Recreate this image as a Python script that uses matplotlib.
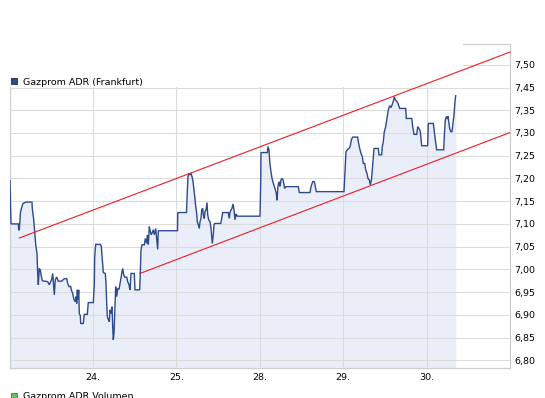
import matplotlib
matplotlib.use("Agg")
import matplotlib.pyplot as plt
from matplotlib.patches import Rectangle

plt.rcParams['font.family'] = ['DejaVu Sans']

# ---- data (trading-day index: 0 = 23., 1 = 24., ...) ----
day_positions = [1, 2, 3, 4, 5]
day_labels = ["24.", "25.", "28.", "29.", "30."]

price_ticks = [6.80, 6.85, 6.90, 6.95, 7.00, 7.05, 7.10, 7.15, 7.20, 7.25,
               7.30, 7.35, 7.40, 7.45]
price_tick_labels = ["6,80", "6,85", "6,90", "6,95", "7,00", "7,05", "7,10",
                     "7,15", "7,20", "7,25", "7,30", "7,35", "7,45", "7,50"]

times = [0.006, 0.012, 0.018, 0.1055, 0.1103, 0.1175, 0.1319, 0.1415, 0.1618, 0.1978,
         0.2697, 0.2733, 0.2901, 0.3021, 0.3141, 0.3297, 0.3381, 0.3453, 0.3572, 0.3692,
         0.3812, 0.3932, 0.4579, 0.4771, 0.5059, 0.5179, 0.5251, 0.5371, 0.5490, 0.5658,
         0.5850, 0.6258, 0.6533, 0.6857, 0.6977, 0.7133, 0.7336, 0.7408, 0.7576, 0.7732,
         0.7888, 0.7972, 0.8056, 0.8128, 0.8212, 0.8296, 0.8368, 0.8488, 0.8536, 0.8847,
         0.8967, 0.9327, 0.9447, 1.0046, 1.0166, 1.0214, 1.0334, 1.0885, 1.1005, 1.1125,
         1.1245, 1.1485, 1.1568, 1.1652, 1.1724, 1.1844, 1.1964, 1.2048, 1.2168, 1.2288,
         1.2372, 1.2443, 1.2527, 1.2611, 1.2731, 1.2851, 1.2971, 1.3127, 1.3330, 1.3450,
         1.3570, 1.3690, 1.3810, 1.4050, 1.4170, 1.4326, 1.4446, 1.4566, 1.4961, 1.5045,
         1.5608, 1.5680, 1.5764, 1.5884, 1.6160, 1.6280, 1.6448, 1.6520, 1.6639, 1.6759,
         1.6879, 1.6999, 1.7239, 1.7359, 1.7527, 1.7647, 1.7766, 1.7838, 2.0140, 2.0176,
         2.1218, 2.1314, 2.1398, 2.1518, 2.1638, 2.1758, 2.1878, 2.1997, 2.2117, 2.2201,
         2.2321, 2.2441, 2.2513, 2.2633, 2.2753, 2.2837, 2.2957, 2.3041, 2.3161, 2.3233,
         2.3352, 2.3436, 2.3556, 2.3676, 2.3760, 2.3880, 2.4036, 2.4156, 2.4240, 2.4312,
         2.4432, 2.4516, 2.4600, 2.5319, 2.5439, 2.5559, 2.6230, 2.6350, 2.6434, 2.6554,
         2.6673, 2.6793, 2.6913, 2.7033, 2.7153, 2.7309, 3.0030, 3.0114, 3.0150, 3.0905,
         3.0989, 3.1109, 3.1193, 3.1313, 3.1469, 3.1625, 3.1828, 3.1984, 3.2068, 3.2188,
         3.2308, 3.2427, 3.2547, 3.2667, 3.2787, 3.2871, 3.2991, 3.3147, 3.4621, 3.4741,
         3.6024, 3.6144, 3.6348, 3.6540, 3.6660, 3.6780, 4.0099, 4.0219, 4.0339, 4.0543,
         4.0699, 4.0854, 4.0974, 4.1142, 4.1742, 4.1814, 4.1982, 4.2138, 4.2294, 4.2414,
         4.2582, 4.2701, 4.2857, 4.2977, 4.3133, 4.3253, 4.3397, 4.3541, 4.3697, 4.4212,
         4.4296, 4.4620, 4.4692, 4.4812, 4.4932, 4.5100, 4.5255, 4.5411, 4.5579, 4.5735,
         4.5890, 4.6058, 4.6130, 4.6250, 4.6418, 4.6574, 4.6778, 4.7497, 4.7569, 4.8216,
         4.8336, 4.8492, 4.8816, 4.8936, 4.9092, 4.9248, 4.9414, 5.0133, 5.0205, 5.0805,
         5.0924, 5.1044, 5.1212, 5.2051, 5.2123, 5.2243, 5.2363, 5.2483, 5.2567, 5.2651,
         5.2771, 5.2891, 5.3047, 5.3167, 5.3287, 5.3406, 5.3490]

prices = [7.195, 7.147, 7.100, 7.100, 7.087, 7.087, 7.126, 7.133, 7.145, 7.148,
          7.148, 7.134, 7.109, 7.083, 7.055, 7.035, 6.991, 6.966, 7.002, 6.999,
          6.985, 6.975, 6.973, 6.966, 6.978, 6.991, 6.973, 6.944, 6.977, 6.983,
          6.974, 6.974, 6.979, 6.980, 6.969, 6.962, 6.963, 6.955, 6.947, 6.933,
          6.929, 6.940, 6.925, 6.955, 6.933, 6.955, 6.903, 6.898, 6.881, 6.881,
          6.901, 6.901, 6.927, 6.927, 6.966, 7.028, 7.055, 7.055, 7.051, 7.021,
          6.993, 6.991, 6.969, 6.925, 6.896, 6.890, 6.885, 6.911, 6.903, 6.918,
          6.874, 6.845, 6.859, 6.903, 6.962, 6.940, 6.958, 6.956, 6.977, 6.991,
          7.002, 6.988, 6.983, 6.983, 6.973, 6.966, 6.955, 6.991, 6.991, 6.955,
          6.955, 6.991, 7.043, 7.054, 7.054, 7.068, 7.057, 7.076, 7.054, 7.094,
          7.083, 7.076, 7.087, 7.076, 7.090, 7.068, 7.044, 7.085, 7.085, 7.125,
          7.125, 7.171, 7.204, 7.211, 7.208, 7.211, 7.204, 7.193, 7.175, 7.160,
          7.139, 7.123, 7.105, 7.098, 7.090, 7.105, 7.112, 7.131, 7.134, 7.120,
          7.112, 7.127, 7.131, 7.147, 7.120, 7.109, 7.105, 7.090, 7.072, 7.057,
          7.076, 7.098, 7.101, 7.101, 7.112, 7.125, 7.125, 7.112, 7.125, 7.131,
          7.134, 7.144, 7.131, 7.109, 7.122, 7.117, 7.117, 7.189, 7.257, 7.257,
          7.270, 7.263, 7.237, 7.219, 7.200, 7.189, 7.178, 7.167, 7.152, 7.183,
          7.193, 7.182, 7.197, 7.200, 7.197, 7.189, 7.178, 7.182, 7.182, 7.169,
          7.169, 7.182, 7.193, 7.193, 7.182, 7.171, 7.171, 7.215, 7.259, 7.264,
          7.266, 7.271, 7.285, 7.291, 7.291, 7.281, 7.266, 7.255, 7.248, 7.233,
          7.233, 7.219, 7.211, 7.200, 7.197, 7.186, 7.197, 7.230, 7.266, 7.266,
          7.252, 7.252, 7.270, 7.281, 7.303, 7.314, 7.332, 7.351, 7.360, 7.356,
          7.363, 7.373, 7.380, 7.373, 7.370, 7.365, 7.354, 7.354, 7.332, 7.332,
          7.314, 7.297, 7.297, 7.314, 7.310, 7.303, 7.272, 7.272, 7.321, 7.321,
          7.303, 7.285, 7.263, 7.263, 7.292, 7.329, 7.336, 7.331, 7.337, 7.325,
          7.310, 7.303, 7.303, 7.321, 7.340, 7.369, 7.382]

# trend channel lines
upper_x = [0.1175, 6.0]
upper_y = [7.069, 7.478]
lower_x = [1.564, 6.0]
lower_y = [6.991, 7.301]

series_name = "Gazprom ADR (Frankfurt)"
volume_name = "Gazprom ADR Volumen"

# ---- styling ----
W, H = 545, 398
line_color = "#2c4a8c"
fill_color = "#eaeef9"
grid_color = "#dcdcdc"
red = "#ee1c25"
fs = 6.8

fig = plt.figure(figsize=(W / 100, H / 100), dpi=100)
fig.patch.set_facecolor("white")

left, right, top, bottom = 9.5, 510, 44.3, 368.3
ax = fig.add_axes([left / W, 1 - bottom / H, (right - left) / W, (bottom - top) / H])
ax.set_facecolor("white")

ymin, ymax = 6.7824, 7.4951
ax.set_xlim(0, 6)
ax.set_ylim(ymin, ymax)

ax.fill_between(times, prices, ymin, color=fill_color, linewidth=0, zorder=1)
ax.plot(times, prices, color=line_color, linewidth=1.0, zorder=3,
        solid_joinstyle="miter")

ax.set_xticks(day_positions)
ax.set_xticklabels(day_labels)
ax.set_yticks(price_ticks)
ax.set_yticklabels(price_tick_labels)
ax.yaxis.tick_right()
ax.tick_params(axis="both", length=0, labelsize=fs, colors="black")
ax.tick_params(axis="x", pad=3.5)
ax.tick_params(axis="y", pad=3.0)
ax.set_axisbelow(False)
ax.grid(True, color=grid_color, linewidth=0.8, zorder=2.5)
for s in ax.spines.values():
    s.set_color("#cfcfcf")
    s.set_linewidth(0.9)

# white legend band covering the top-left of the plot
band = Rectangle((-0.05, 7.4015), 5.49, 0.2, transform=ax.transData,
                 facecolor="white", edgecolor="none", zorder=2.7, clip_on=False)
ax.add_patch(band)

ax.plot(upper_x, upper_y, color=red, linewidth=0.8, zorder=4, clip_on=False)
ax.plot(lower_x, lower_y, color=red, linewidth=0.8, zorder=4)

# legend (top)
fig.patches.append(Rectangle((11 / W, 1 - 84.3 / H), 6.3 / W, 6.3 / H,
                             transform=fig.transFigure, facecolor=line_color,
                             edgecolor="#1b2c55", linewidth=0.6, zorder=6))
fig.text(22.7 / W, 1 - 85 / H, series_name, fontsize=fs, color="black",
         va="baseline", ha="left", zorder=6)

# volume legend (bottom, cut off as in the original)
fig.patches.append(Rectangle((11 / W, 1 - 399.5 / H), 6.3 / W, 6.5 / H,
                             transform=fig.transFigure, facecolor="#5cc85c",
                             edgecolor="#2e7d2e", linewidth=0.6, zorder=6))
fig.text(22.7 / W, 1 - 398.8 / H, volume_name, fontsize=fs, color="black",
         va="baseline", ha="left", zorder=6)

fig.savefig("out.png", dpi=100)
